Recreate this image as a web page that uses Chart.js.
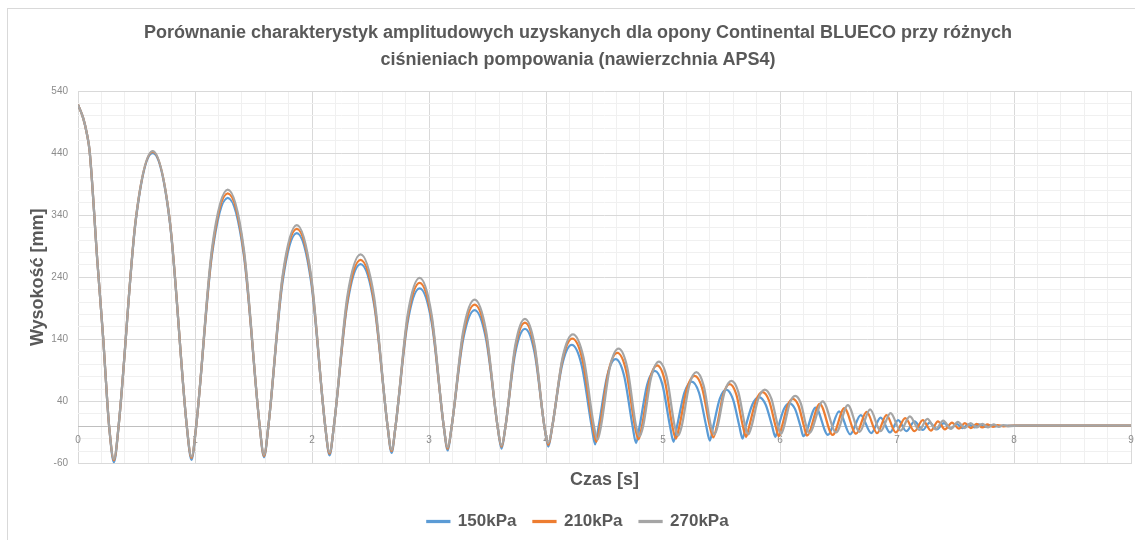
<!DOCTYPE html>
<html lang="pl">
<head>
<meta charset="utf-8">
<title>Continental BLUECO - APS4</title>
<script src="https://cdn.jsdelivr.net/npm/chart.js@4.4.1/dist/chart.umd.min.js"></script>
<style>
  html, body { margin: 0; padding: 0; background: #fff; overflow: hidden; }
  #wrap { position: relative; width: 1135px; height: 540px; }
  #ramka { position: absolute; left: 7px; top: 8px; width: 1200px; height: 600px; border: 1px solid #d9d9d9; pointer-events: none; }
</style>
</head>
<body>
<div id="wrap">
  <canvas id="myChart" width="1135" height="540"></canvas>
  <div id="ramka"></div>
</div>
<script>
const serie = ['150kPa', '210kPa', '270kPa']
const kolory = ['#5b9bd5', '#ed7d31', '#a5a5a5']

const czas150 = [0, 0.045, 0.075, 0.1, 0.165, 0.216, 0.25, 0.266, 0.307,
    0.347, 0.493, 0.638, 0.784, 0.93, 0.97,
    1.01, 1.145, 1.28, 1.417, 1.553, 1.59,
    1.627, 1.749, 1.87, 1.992, 2.113, 2.15,
    2.187, 2.301, 2.415, 2.531, 2.646, 2.68,
    2.714, 2.817, 2.92, 3.023, 3.126, 3.16,
    3.194, 3.292, 3.39, 3.488, 3.586, 3.62,
    3.654, 3.737, 3.82, 3.903, 3.986, 4.02,
    4.054, 4.137, 4.22, 4.305, 4.39, 4.42,
    4.45, 4.523, 4.595, 4.668, 4.74, 4.77,
    4.80, 4.865, 4.93, 4.995, 5.06, 5.09,
    5.12, 5.183, 5.245, 5.308, 5.37, 5.40,
    5.43, 5.485, 5.54, 5.597, 5.653, 5.68,
    5.707, 5.764, 5.82, 5.877, 5.933, 5.96,
    5.987, 6.034, 6.08, 6.128, 6.175, 6.20,
    6.305, 6.41, 6.505, 6.60, 6.69, 6.78, 6.86, 6.94, 7.01, 7.08, 7.15, 7.22, 7.28,
    7.34, 7.40, 7.46, 7.51, 7.56, 7.61, 7.66, 7.70, 7.75, 7.79, 7.84, 7.95, 9]
const wys150 = [518, 496, 472, 442, 267, 140, 40, 0, -58,
    0, 330, 440, 330, 0, -54,
    0, 276, 368, 276, 0, -50,
    0, 233, 311, 233, 0, -47,
    0, 196, 261, 196, 0, -43,
    0, 167, 222, 167, 0, -39,
    0, 140, 187, 140, 0, -36,
    0, 118, 157, 118, 0, -33,
    0, 98, 131, 98, 0, -29,
    0, 81, 108, 81, 0, -27,
    0, 67, 89, 67, 0, -25,
    0, 54, 72, 54, 0, -23,
    0, 44, 59, 44, 0, -20,
    0, 35, 47, 35, 0, -17,
    0, 28, 37, 28, 0, -16,
    30, -14, 24, -13, 18, -11, 14, -10, 10, -8, 8, -6, 6,
    -5, 5, -4, 4, -3, 3, -2, 3, -1, 2, 0, 1, 1]

const czas210 = [0, 0.045, 0.075, 0.1, 0.165, 0.216, 0.25, 0.266, 0.307,
    0.347, 0.493, 0.638, 0.784, 0.93, 0.97,
    1.01, 1.145, 1.28, 1.417, 1.553, 1.59,
    1.627, 1.749, 1.87, 1.992, 2.113, 2.15,
    2.187, 2.301, 2.415, 2.531, 2.646, 2.68,
    2.714, 2.817, 2.92, 3.023, 3.126, 3.16,
    3.194, 3.292, 3.39, 3.488, 3.586, 3.62,
    3.654, 3.737, 3.82, 3.903, 3.986, 4.02,
    4.054, 4.14, 4.225, 4.313, 4.40, 4.43,
    4.46, 4.535, 4.61, 4.685, 4.76, 4.79,
    4.82, 4.885, 4.95, 5.015, 5.08, 5.11,
    5.14, 5.205, 5.27, 5.335, 5.40, 5.43,
    5.46, 5.515, 5.57, 5.627, 5.683, 5.71,
    5.737, 5.794, 5.85, 5.907, 5.963, 5.99,
    6.017, 6.064, 6.11, 6.158, 6.205, 6.23,
    6.34, 6.45, 6.55, 6.65, 6.74, 6.83, 6.91, 6.99, 7.07, 7.15, 7.22, 7.29, 7.35,
    7.41, 7.47, 7.53, 7.58, 7.63, 7.68, 7.73, 7.77, 7.82, 7.86, 7.91, 8.0, 9]
const wys210 = [518, 496, 472, 442, 267, 140, 40, 0, -55,
    0, 332, 442, 332, 0, -51,
    0, 281, 375, 281, 0, -48,
    0, 239, 318, 239, 0, -44,
    0, 201, 268, 201, 0, -40,
    0, 173, 231, 173, 0, -36,
    0, 147, 196, 147, 0, -33,
    0, 125, 167, 125, 0, -30,
    0, 106, 141, 106, 0, -25,
    0, 89, 118, 89, 0, -21,
    0, 74, 98, 74, 0, -20,
    0, 61, 81, 61, 0, -18,
    0, 51, 68, 51, 0, -17,
    0, 41, 55, 41, 0, -16,
    0, 33, 44, 33, 0, -15,
    36, -14, 29, -12, 23, -11, 18, -10, 13, -8, 10, -7, 8,
    -5, 6, -4, 5, -3, 4, -2, 3, -1, 2, 0, 1, 1]

const czas270 = [0, 0.045, 0.075, 0.1, 0.165, 0.216, 0.25, 0.266, 0.307,
    0.347, 0.493, 0.638, 0.784, 0.93, 0.97,
    1.01, 1.145, 1.28, 1.417, 1.553, 1.59,
    1.627, 1.749, 1.87, 1.992, 2.113, 2.15,
    2.187, 2.301, 2.415, 2.531, 2.646, 2.68,
    2.714, 2.817, 2.92, 3.023, 3.126, 3.16,
    3.194, 3.292, 3.39, 3.488, 3.586, 3.62,
    3.654, 3.737, 3.82, 3.903, 3.986, 4.02,
    4.054, 4.142, 4.23, 4.32, 4.41, 4.44,
    4.47, 4.545, 4.62, 4.695, 4.77, 4.80,
    4.83, 4.898, 4.965, 5.033, 5.10, 5.13,
    5.16, 5.223, 5.285, 5.348, 5.41, 5.44,
    5.467, 5.526, 5.585, 5.644, 5.703, 5.73,
    5.757, 5.814, 5.87, 5.927, 5.983, 6.01,
    6.035, 6.083, 6.13, 6.178, 6.225, 6.25,
    6.365, 6.48, 6.58, 6.68, 6.77, 6.86, 6.945, 7.03, 7.11, 7.19, 7.26, 7.33, 7.395,
    7.46, 7.52, 7.58, 7.63, 7.68, 7.73, 7.78, 7.825, 7.87, 7.91, 7.95, 8.05, 9]
const wys270 = [518, 496, 472, 442, 267, 140, 40, 0, -53,
    0, 332, 443, 332, 0, -49,
    0, 286, 381, 286, 0, -46,
    0, 243, 324, 243, 0, -42,
    0, 208, 277, 208, 0, -38,
    0, 179, 239, 179, 0, -34,
    0, 153, 204, 153, 0, -31,
    0, 130, 173, 130, 0, -27,
    0, 111, 148, 111, 0, -22,
    0, 94, 125, 94, 0, -16,
    0, 78, 104, 78, 0, -15,
    0, 65, 87, 65, 0, -13,
    0, 55, 73, 55, 0, -13,
    0, 44, 59, 44, 0, -12,
    0, 37, 49, 37, 0, -11,
    40, -10, 34, -9, 27, -8, 21, -7, 16, -6, 12, -5, 9,
    -4, 7, -3, 5, -2, 4, -2, 3, -1, 2, 0, 1, 1]

const yTicks = [-60, 40, 140, 240, 340, 440, 540]
const xTicks = [0, 1, 2, 3, 4, 5, 6, 7, 8, 9]

const punkty = (czas, wys) => czas.map((t, i) => ({ x: t, y: wys[i] }))
const calk = v => Math.abs(v - Math.round(v)) < 1e-9

const czcionka = 'Liberation Sans, Arial, sans-serif'
const szary = '#595959'

const zestaw = (i, czas, wys) => ({
    label: serie[i],
    data: punkty(czas, wys),
    borderColor: kolory[i],
    backgroundColor: kolory[i],
    borderWidth: 2.25,
    pointRadius: 0,
    fill: false,
    cubicInterpolationMode: 'monotone',
    order: 3 - i
})

const bezMarginesu = s => {
    s.paddingLeft = 0
    s.paddingRight = 0
}

var ctx = document.getElementById('myChart').getContext('2d');
var myChart = new Chart(ctx, {
    type: 'line',
    data: {
        datasets: [
            zestaw(0, czas150, wys150),
            zestaw(1, czas210, wys210),
            zestaw(2, czas270, wys270)
        ]
    },
    options: {
        responsive: false,
        animation: false,
        devicePixelRatio: 1,
        layout: { padding: { left: 25, right: 4, top: 0, bottom: 0 } },
        plugins: {
            title: {
                display: true,
                text: ['Porównanie charakterystyk amplitudowych uzyskanych dla opony Continental BLUECO przy różnych',
                    'ciśnieniach pompowania (nawierzchnia APS4)'],
                color: szary,
                font: { family: czcionka, size: 18, weight: 'bold', lineHeight: 1.5 },
                padding: { top: 19.5, bottom: 17.5 }
            },
            legend: {
                position: 'bottom',
                labels: {
                    color: szary,
                    font: { family: czcionka, size: 17, weight: 'bold' },
                    boxWidth: 22,
                    boxHeight: 1,
                    padding: 17,
                    sort: (a, b) => a.datasetIndex - b.datasetIndex
                }
            },
            tooltip: { enabled: false }
        },
        scales: {
            x: {
                type: 'linear',
                min: 0,
                max: 9,
                afterBuildTicks: s => {
                    const t = []
                    for (let i = 0; i <= 45; i++) t.push({ value: i / 5 })
                    s.ticks = t
                },
                afterFit: s => {
                    s.height = 32.5
                    bezMarginesu(s)
                },
                grid: {
                    drawTicks: false,
                    color: c => calk(c.tick.value) ? '#d9d9d9' : '#f0f0f0'
                },
                border: { display: false },
                ticks: { display: false, autoSkip: false },
                title: {
                    display: true,
                    text: 'Czas [s]',
                    color: szary,
                    font: { family: czcionka, size: 18, weight: 'bold' },
                    padding: { top: 6, bottom: 5 }
                }
            },
            xOs: {
                type: 'linear',
                axis: 'x',
                position: { y: 0 },
                min: 0,
                max: 9,
                afterBuildTicks: s => { s.ticks = xTicks.map(v => ({ value: v })) },
                afterFit: bezMarginesu,
                grid: { display: false, drawTicks: false },
                border: { display: false },
                ticks: {
                    autoSkip: false,
                    maxRotation: 0,
                    padding: 8,
                    color: '#8c8c8c',
                    font: { family: czcionka, size: 10 }
                }
            },
            y: {
                min: -60,
                max: 540,
                afterBuildTicks: s => {
                    const t = []
                    for (let v = -60; v <= 540; v += 20) t.push({ value: v })
                    s.ticks = t
                },
                afterFit: s => { s.width = 53 },
                grid: {
                    drawTicks: false,
                    color: c => c.tick.value === 0 ? '#bfbfbf' : (yTicks.includes(c.tick.value) ? '#d9d9d9' : '#f0f0f0')
                },
                border: { display: false },
                ticks: {
                    autoSkip: false,
                    padding: 10,
                    color: '#8c8c8c',
                    font: { family: czcionka, size: 10 },
                    callback: v => yTicks.includes(v) ? v : ''
                },
                title: {
                    display: true,
                    text: 'Wysokość [mm]',
                    color: szary,
                    font: { family: czcionka, size: 18, weight: 'bold' },
                    padding: { top: 2, bottom: 4 }
                }
            }
        }
    }
});
</script>
</body>
</html>
